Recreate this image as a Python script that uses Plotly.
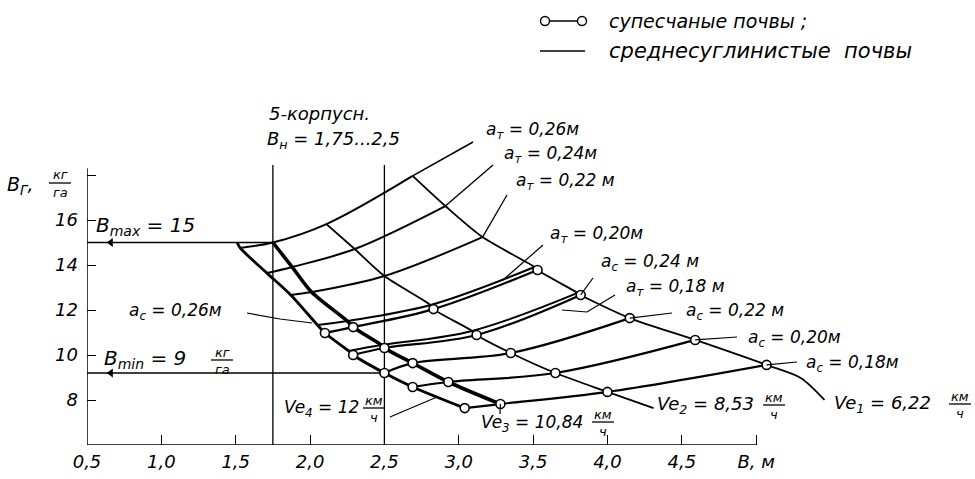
import plotly.graph_objects as go

# ---------------- data ----------------
x_tick_vals = [0.5, 1.0, 1.5, 2.0, 2.5, 3.0, 3.5, 4.0, 4.5, 5.0]
x_tick_text = ["0,5", "1,0", "1,5", "2,0", "2,5", "3,0", "3,5", "4,0", "4,5", "B, м"]
y_tick_vals = [8, 10, 12, 14, 16, 18]
y_tick_text = ["8", "10", "12", "14", "16", ""]

B_max = 15.0          # horizontal limit line (drawn at 15)
B_min_line = 9.2      # horizontal limit line as drawn
plow_B = [1.75, 2.5]  # 5-furrow plough working width range
arrow_B = [0.66]

speeds = ["12", "10,84", "8,53", "6,22"]      # Ve4, Ve3, Ve2, Ve1

# loam soils (среднесуглинистые), points at Ve4, Ve3, Ve2, Ve1
at26_B = [1.53, 1.75, 2.11, 2.69]; at26_v = [14.76, 15.00, 15.82, 17.96]
at24_B = [1.71, 1.88, 2.30, 2.91]; at24_v = [13.64, 13.91, 14.71, 16.62]
at22_B = [1.87, 2.01, 2.50, 3.16]; at22_v = [12.67, 12.80, 13.51, 15.24]
at20_B = [2.05, 2.25, 2.81, 3.51]; at20_v = [11.33, 11.51, 12.22, 13.91]
at18_B = [2.26, 2.48, 3.09, 3.80]; at18_v = [10.18, 10.44, 11.07, 12.76]

# sandy soils (супесчаные), points at Ve4, Ve3, Ve2, Ve1
ac26_B = [2.10, 2.29, 2.83, 3.53]; ac26_v = [10.98, 11.24, 12.04, 13.78]
ac24_B = [2.29, 2.50, 3.12, 3.82]; ac24_v = [10.00, 10.31, 10.89, 12.67]
ac22_B = [2.50, 2.69, 3.35, 4.15]; ac22_v = [9.20, 9.64, 10.09, 11.64]
ac20_B = [2.69, 2.93, 3.65, 4.59]; ac20_v = [8.58, 8.80, 9.20, 10.67]
ac18_B = [3.04, 3.28, 4.00, 5.07]; ac18_v = [7.64, 7.82, 8.36, 9.56]

# speed-curve ends beyond the grid
ve4_head_B = [1.51]; ve4_head_v = [15.0]
ve2_tail_B = [4.31]; ve2_tail_v = [7.64]
ve1_tail_B = [5.30, 5.46]; ve1_tail_v = [8.98, 8.00]

loam = [("0,26", at26_B, at26_v), ("0,24", at24_B, at24_v), ("0,22", at22_B, at22_v),
        ("0,20", at20_B, at20_v), ("0,18", at18_B, at18_v)]
sand = [("0,26", ac26_B, ac26_v), ("0,24", ac24_B, ac24_v), ("0,22", ac22_B, ac22_v),
        ("0,20", ac20_B, ac20_v), ("0,18", ac18_B, ac18_v)]

# ---------------- geometry helpers (layout only) ----------------
W, H = 975, 479
ML, MB = 87, 34
PW, PH = W - ML, H - MB
PXU_X, PXU_Y = 148.7, 22.5
X0, Y0 = 0.5, 6.0
x_range = [X0, X0 + PW / PXU_X]
y_range = [Y0, Y0 + PH / PXU_Y]
NB = "\u00a0"


def dx(px):
    return X0 + (px - ML) / PXU_X


def dy(py):
    return Y0 + (PH - py) / PXU_Y


def xp(px):
    return (px - ML) / PW


def yp(py):
    return (PH - py) / PH


FONT = "DejaVu Sans"
fig = go.Figure()
shapes = []
ann = []


def text(px, py, s, size=15, anchor="left"):
    ann.append(dict(x=xp(px), y=yp(py), xref="paper", yref="paper", text="<i>" + s + "</i>",
                    showarrow=False, xanchor=anchor, yanchor="middle", borderpad=0,
                    font=dict(family=FONT, size=size, color="black")))


def frac(pxc, pyc, num, den, size=13, w=22):
    text(pxc, pyc - 8, num, size, "center")
    text(pxc, pyc + 9, den, size, "center")
    shapes.append(dict(type="line", xref="paper", yref="paper", x0=xp(pxc - w / 2), x1=xp(pxc + w / 2),
                       y0=yp(pyc), y1=yp(pyc), line=dict(color="black", width=1.3)))


def seg(xs, ys, width=1.2):
    fig.add_trace(go.Scatter(x=xs, y=ys, mode="lines", line=dict(color="black", width=width),
                             hoverinfo="skip"))


def eq(a, b):
    return a + NB + "=" + NB + b


# ---------------- reference lines ----------------
ve3_top_B = at26_B[1]
shapes.append(dict(type="line", xref="x", yref="y", x0=X0, x1=ve3_top_B, y0=B_max, y1=B_max,
                   line=dict(color="black", width=1.6), layer="below"))
shapes.append(dict(type="line", xref="x", yref="y", x0=X0, x1=ac22_B[0], y0=B_min_line, y1=B_min_line,
                   line=dict(color="black", width=1.6), layer="below"))
for b in plow_B:
    shapes.append(dict(type="line", xref="x", yref="y", x0=b, x1=b, y0=Y0, y1=18.45,
                       line=dict(color="black", width=1.3), layer="below"))
# axes lines
shapes.append(dict(type="line", xref="x", yref="y", x0=X0, x1=5.0, y0=Y0, y1=Y0,
                   line=dict(color="black", width=1.5), layer="below"))
shapes.append(dict(type="line", xref="x", yref="y", x0=X0, x1=X0, y0=Y0, y1=18.3,
                   line=dict(color="black", width=1.5), layer="below"))

fig.add_trace(go.Scatter(x=arrow_B * 2, y=[B_max, B_min_line], mode="markers",
                         marker=dict(symbol="triangle-left", size=8, color="black"), hoverinfo="skip"))

# ---------------- depth curves ----------------
for name, bs, vs in loam:
    fig.add_trace(go.Scatter(x=bs, y=vs, mode="lines", line=dict(color="black", width=2, shape="spline"),
                             hoverinfo="skip"))
for name, bs, vs in sand:
    fig.add_trace(go.Scatter(x=bs, y=vs, mode="lines", line=dict(color="black", width=2.2, shape="spline"),
                             hoverinfo="skip"))

# ---------------- speed curves ----------------
ve_widths = [2.8, 3.6, 1.8, 1.8]
for k in range(4):
    pts = [(c[1][k], c[2][k]) for c in loam + sand]
    if k == 0:
        pts += list(zip(ve4_head_B, ve4_head_v))
    if k == 2:
        pts += list(zip(ve2_tail_B, ve2_tail_v))
    if k == 3:
        pts += list(zip(ve1_tail_B, ve1_tail_v))
    pts.sort()
    fig.add_trace(go.Scatter(x=[p[0] for p in pts], y=[p[1] for p in pts], mode="lines",
                             line=dict(color="black", width=ve_widths[k], shape="spline", smoothing=0.8),
                             hoverinfo="skip"))

# markers on sandy curves
mx = [b for _, bs, _ in sand for b in bs]
my = [v for _, _, vs in sand for v in vs]
fig.add_trace(go.Scatter(x=mx, y=my, mode="markers",
                         marker=dict(symbol="circle", size=9, color="white",
                                     line=dict(color="black", width=1.6)), hoverinfo="skip"))

# ---------------- leaders ----------------
seg([at26_B[3], dx(473)], [at26_v[3], dy(142)], 1.6)
seg([at24_B[3], dx(493)], [at24_v[3], dy(165)], 1.4)
seg([at22_B[3], dx(507)], [at22_v[3], dy(195)], 1.3)
seg([dx(503), dx(543)], [dy(280), dy(245)], 1.2)
seg([ac24_B[3], dx(593)], [ac24_v[3], dy(278)], 1.2)
seg([dx(562), dx(587), dx(615)], [dy(310), dy(312), dy(295)], 1.2)
seg([ac22_B[3], dx(672)], [ac22_v[3], dy(313)], 1.2)
seg([ac20_B[3], dx(737)], [ac20_v[3], dy(337)], 1.2)
seg([ac18_B[3], dx(797)], [ac18_v[3], dy(362)], 1.2)
seg([dx(247), dx(280), dx(312)], [dy(313), dy(319), dy(323)], 1.2)
seg([dx(390), dx(437)], [dy(417), dy(397)], 1.2)
seg([ac18_B[1], dx(500)], [ac18_v[1], dy(414)], 1.2)

# ---------------- labels ----------------
S = 17
text(485, 130, eq("a<sub>т</sub>", loam[0][0] + "м"), S)
text(503, 155, eq("a<sub>т</sub>", loam[1][0] + "м"), S)
text(515, 181, eq("a<sub>т</sub>", loam[2][0] + " м"), S)
text(549, 234, eq("a<sub>т</sub>", loam[3][0] + "м"), S)
text(600, 262, eq("a<sub>c</sub>", sand[1][0] + " м"), S)
text(625, 287, eq("a<sub>т</sub>", loam[4][0] + " м"), S)
text(685, 311, eq("a<sub>c</sub>", sand[2][0] + " м"), S)
text(747, 338, eq("a<sub>c</sub>", sand[3][0] + "м"), S)
text(805, 363, eq("a<sub>c</sub>", sand[4][0] + "м"), S)
text(128, 311, eq("a<sub>c</sub>", sand[0][0] + "м"), S)

text(95, 226, eq("B<sub>max</sub>", "15"), 20)
text(103, 359, eq("B<sub>min</sub>", "9"), 20)
frac(222, 360, "кг", "га", 13, 22)

text(283, 408, eq("Ve<sub>4</sub>", speeds[0]), 17)
frac(374, 408, "км", "ч", 13, 22)
text(480, 423, eq("Ve<sub>3</sub>", speeds[1]), 17)
frac(603, 422, "км", "ч", 13, 22)
text(656, 405, eq("Ve<sub>2</sub>", speeds[2]), 18)
frac(774, 405, "км", "ч", 13, 22)
text(833, 404, eq("Ve<sub>1</sub>", speeds[3]), 18)
frac(960, 404, "км", "ч", 13, 22)

text(6, 185, "B<sub>Г</sub>,", 19)
frac(60, 183, "кг", "га", 13, 22)

text(268, 114, "5-корпусн.", 18)
text(266, 140, "B<sub>н</sub>" + NB + "=" + NB + "1,75...2,5", 18)

# legend
shapes.append(dict(type="line", xref="paper", yref="paper", x0=xp(545), x1=xp(582), y0=yp(21), y1=yp(21),
                   line=dict(color="black", width=1.4)))
for cx in (545, 582):
    shapes.append(dict(type="circle", xref="paper", yref="paper", x0=xp(cx - 4.5), x1=xp(cx + 4.5),
                       y0=yp(25.5), y1=yp(16.5), fillcolor="white", line=dict(color="black", width=1.4)))
shapes.append(dict(type="line", xref="paper", yref="paper", x0=xp(540), x1=xp(585), y0=yp(51), y1=yp(51),
                   line=dict(color="black", width=1.4)))
text(608, 21, "супесчаные" + NB + "почвы" + NB + ";", 19)
text(608, 51, "среднесуглинистые" + NB * 2 + "почвы", 21)

fig.update_layout(
    width=W, height=H, margin=dict(l=ML, r=0, t=0, b=MB, autoexpand=False),
    paper_bgcolor="white", plot_bgcolor="white", showlegend=False,
    shapes=shapes, annotations=ann,
    xaxis=dict(range=x_range, showgrid=False, zeroline=False, showline=False, automargin=False,
               ticks="inside", ticklen=10, tickwidth=1.4, tickcolor="black",
               tickvals=x_tick_vals, ticktext=["<i>" + t + "</i>" for t in x_tick_text],
               ticklabelstandoff=4,
               tickfont=dict(family=FONT, size=18, color="black")),
    yaxis=dict(range=y_range, showgrid=False, zeroline=False, showline=False, automargin=False,
               ticks="inside", ticklen=9, tickwidth=1.4, tickcolor="black",
               tickvals=y_tick_vals, ticktext=["<i>" + t + "</i>" for t in y_tick_text],
               ticklabelstandoff=8,
               tickfont=dict(family=FONT, size=18, color="black")),
)

fig.write_html("out.html", config={"displayModeBar": False},
               post_script="document.body.style.margin='0';document.body.style.padding='0';")
